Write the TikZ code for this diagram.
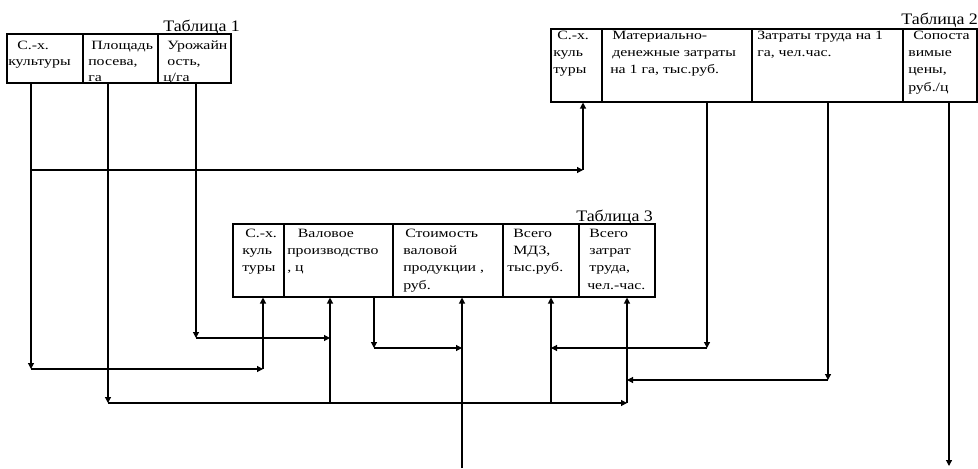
\documentclass[tikz,border=0pt]{standalone}
\usepackage{fontspec}
\newfontfamily\cellfont[FakeStretch=1.25]{Liberation Serif}
\newfontfamily\capfont[FakeStretch=1.12]{Liberation Serif}
\usetikzlibrary{arrows.meta,fit}
\begin{document}
\begin{tikzpicture}[x=0.75pt,y=-0.75pt,
  cellbox/.style={draw,line width=0.8pt,inner sep=0pt},
  txt/.style={inner sep=0pt,anchor=north west,align=left,yshift=6.3pt,font=\cellfont\fontsize{9.5}{13}\selectfont},
  txtone/.style={inner sep=0pt,anchor=north west,align=left,yshift=6.3pt,font=\cellfont\fontsize{9.5}{12}\selectfont},
  captxt/.style={inner sep=0pt,anchor=base west,font=\capfont\fontsize{12}{14}\selectfont},
  conn/.style={line width=0.9pt,-{Triangle[length=4.5pt,width=4.5pt]}}]
\useasboundingbox (0,0) rectangle (978,468);

% Table 1
\node[cellbox,fit={(7,34)(83,83)}] (t1a) {};
\node[cellbox,fit={(83,34)(158,83)}] (t1b) {};
\node[cellbox,fit={(158,34)(231,83)}] (t1c) {};
\node[captxt] (cap1) at (163,31) {Таблица 1};
\node[txtone] (t1at) at (8,49) {\hspace*{6.75pt}С.-х.\\культуры};
\node[txtone] (t1bt) at (88,49) {\hspace*{2.25pt}Площадь\\посева,\\га};
\node[txtone] (t1ct) at (163,49) {\hspace*{3pt}Урожайн\\\hspace*{3pt}ость,\\ц/га};

% Table 2
\node[cellbox,fit={(551,29)(602,102)}] (t2a) {};
\node[cellbox,fit={(602,29)(752,102)}] (t2b) {};
\node[cellbox,fit={(752,29)(903,102)}] (t2c) {};
\node[cellbox,fit={(903,29)(977,102)}] (t2d) {};
\node[captxt] (cap2) at (901,24) {Таблица 2};
\node[txt] (t2at) at (553,39) {\hspace*{3pt}С.-х.\\куль\\туры};
\node[txt] (t2bt) at (610,39) {\hspace*{1.5pt}Материально-\\\hspace*{1.5pt}денежные затраты\\на 1 га, тыс.руб.};
\node[txt] (t2ct) at (757,39) {Затраты труда на 1\\га, чел.час.};
\node[txt] (t2dt) at (908,39) {\hspace*{3.75pt}Сопоста\\вимые\\цены,\\руб./ц};

% Table 3
\node[cellbox,fit={(233,224)(284,297)}] (t3a) {};
\node[cellbox,fit={(284,224)(393,297)}] (t3b) {};
\node[cellbox,fit={(393,224)(503,297)}] (t3c) {};
\node[cellbox,fit={(503,224)(579,297)}] (t3d) {};
\node[cellbox,fit={(579,224)(655,297)}] (t3e) {};
\node[captxt] (cap3) at (576,221) {Таблица 3};
\node[txt] (t3at) at (242,237) {\hspace*{2.25pt}С.-х.\\куль\\туры};
\node[txt] (t3bt) at (287,237) {\hspace*{8pt}Валовое\\производство\\, ц};
\node[txt] (t3ct) at (403,237) {\hspace*{1.5pt}Стоимость\\валовой\\продукции ,\\руб.};
\node[txt] (t3dt) at (507,237) {\hspace*{4.5pt}Всего\\\hspace*{4.5pt}МДЗ,\\тыс.руб.};
\node[txt] (t3et) at (587,237) {\hspace*{1.5pt}Всего\\\hspace*{1.5pt}затрат\\\hspace*{1.5pt}труда,\\чел.-час.};

% junction coordinates
\coordinate (cH1) at (31,170);
\coordinate (cH2) at (583,170);
\coordinate (cA2) at (31,369);
\coordinate (cA3) at (263,369);
\coordinate (cB1) at (108,403);
\coordinate (cB2) at (627,403);
\coordinate (cB3) at (330,403);
\coordinate (cB4) at (551,403);
\coordinate (cC1) at (196,338);
\coordinate (cC2) at (330,338);
\coordinate (cD1) at (374,348);
\coordinate (cD2) at (462,348);
\coordinate (cD3) at (462,468);
\coordinate (cE1) at (707,348);
\coordinate (cE2) at (551,348);
\coordinate (cF1) at (828,380);
\coordinate (cF2) at (627,380);
\coordinate (cG1) at (949,466);

% connectors
\draw[conn] (t1a.south -| cA2) -- (cA2);
\draw[conn] (cA2) -- (cA3);
\draw[conn] (cA3) -- (t3a.south -| cA3);
\draw[conn] (cH1) -- (cH2);
\draw[conn] (cH2) -- (t2a.south -| cH2);

\draw[conn] (t1b.south -| cB1) -- (cB1);
\draw[conn] (cB1) -- (cB2);
\draw[conn] (cB2) -- (t3e.south -| cB2);
\draw[conn] (cB3) -- (t3b.south -| cB3);
\draw[conn] (cB4) -- (t3d.south -| cB4);

\draw[conn] (t1c.south -| cC1) -- (cC1);
\draw[conn] (cC1) -- (cC2);

\draw[conn] (t3b.south -| cD1) -- (cD1);
\draw[conn] (cD1) -- (cD2);
\draw[conn] (cD3) -- (t3c.south -| cD3);

\draw[conn] (t2b.south -| cE1) -- (cE1);
\draw[conn] (cE1) -- (cE2);

\draw[conn] (t2c.south -| cF1) -- (cF1);
\draw[conn] (cF1) -- (cF2);

\draw[conn] (t2d.south -| cG1) -- (cG1);
\end{tikzpicture}
\end{document}
